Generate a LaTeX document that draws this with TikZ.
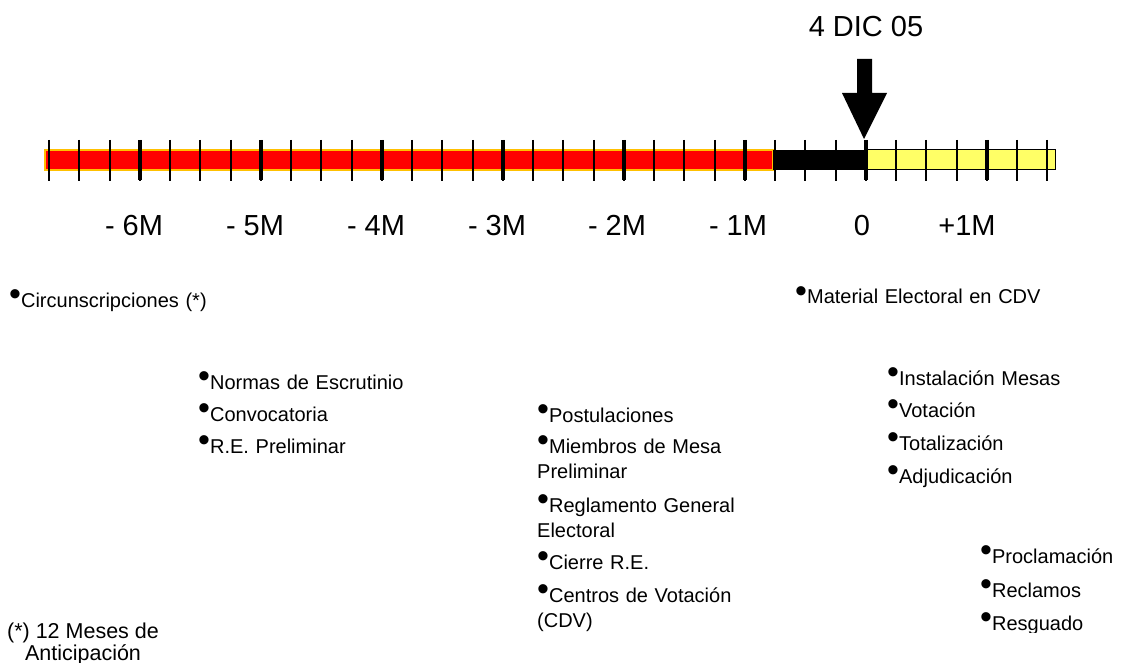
\documentclass[tikz,border=0pt]{standalone}
\usepackage{fontspec}
\setmainfont{Liberation Sans}
\definecolor{barred}{RGB}{255,0,0}
\definecolor{barorange}{RGB}{255,192,0}
\definecolor{baryellow}{RGB}{255,255,102}
\newcommand\bul{\raisebox{1.5pt}{\fontsize{34}{20}\selectfont\textbullet}}
\def\drawTicks{
\foreach \k in {0,...,33} {
  \draw[line width=2pt] (49+30.25*\k,140) -- (49+30.25*\k,181);
}
\foreach \k in {3,7,...,31} {
  \draw[line width=4.5pt] (49+30.25*\k,140) -- (49+30.25*\k,180);
}
}
\tikzset{
  item/.style={anchor=base west, inner sep=0pt, text width=300pt, align=left,
    font=\fontsize{20}{25}\selectfont},
  month/.style={anchor=base, inner sep=0pt, font=\fontsize{29}{34}\selectfont}
}

\begin{document}
\begin{tikzpicture}[x=1pt,y=-1pt]
\useasboundingbox (0,0) rectangle (1125,663);
% time line
\fill[barred, draw=barorange, line width=2pt] (45,150) rectangle (773,170);
\fill[black] (773,150) rectangle (866,170);
\filldraw[fill=baryellow, draw=black, line width=1pt] (866,150) rectangle (1055,170);
\drawTicks
% today
\coordinate (tip) at (864,139);
\fill (857,59) -- (872,59) -- (872,93) -- (887,93) -- (tip) -- (842,93) -- (857,93) -- cycle;
\node[month] at (866,37) (today) {4 DIC 05};
% months
\node[month] at (134,236) (m6) {- 6M};
\node[month] at (255,236) (m5) {- 5M};
\node[month] at (376,236) (m4) {- 4M};
\node[month] at (497,236) (m3) {- 3M};
\node[month] at (617,236) (m2) {- 2M};
\node[month] at (738,236) (m1) {- 1M};
\node[month] at (862,236) (m0) {0};
\node[month] at (967,236) (p1) {+1M};
% tasks
\node[item] at (9,307) (circ) {\bul Circunscripciones (*)};
\node[item] at (198,389) (normas) {\bul Normas de Escrutinio};
\node[item] at (198,421) (conv) {\bul Convocatoria};
\node[item] at (198,453) (rep) {\bul R.E. Preliminar};
\node[item] at (537,422) (post) {\bul Postulaciones};
\node[item] at (537,453) (miem) {\bul Miembros de Mesa\\Preliminar};
\node[item] at (537,512) (regl) {\bul Reglamento General\\Electoral};
\node[item] at (537,569) (cier) {\bul Cierre R.E.};
\node[item] at (537,602) (cdv) {\bul Centros de Votación\\(CDV)};
\node[item] at (795,304) (mat) {\bul Material Electoral en CDV};
\node[item] at (887,385) (inst) {\bul Instalación Mesas};
\node[item] at (887,417) (vot) {\bul Votación};
\node[item] at (887,450) (tot) {\bul Totalización};
\node[item] at (887,483) (adj) {\bul Adjudicación};
\node[item] at (980,563) (proc) {\bul Proclamación};
\node[item] at (980,597) (recl) {\bul Reclamos};
\begin{scope}
\clip (970,600) rectangle (1125,632);
\node[item] at (980,630) (resg) {\bul Resguado};
\end{scope}
\node[anchor=base, inner sep=0pt, align=center, font=\fontsize{21.5}{22}\selectfont]
  at (83,660) (nota) {(*) 12 Meses de\\Anticipación};
\end{tikzpicture}
\end{document}
